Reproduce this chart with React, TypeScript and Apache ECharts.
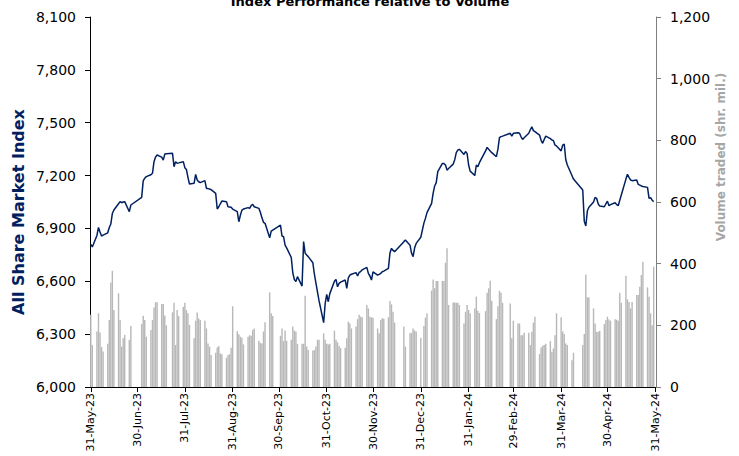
import React, { useEffect, useRef } from "react";
import * as echarts from "echarts";

// Trading days run Sunday–Thursday; null = market holiday
const tickLabels = [
  "31-May-23", "30-Jun-23", "31-Jul-23", "31-Aug-23", "30-Sep-23", "31-Oct-23",
  "30-Nov-23", "31-Dec-23", "31-Jan-24", "29-Feb-24", "31-Mar-24", "30-Apr-24", "31-May-24",
];

const indexValues: (number | null)[] = [
  6810, 6795,
  6860, 6906, 6880, 6857, 6862,
  6875, 6905, 6925, 6985, 7005,
  7040, 7052, 7046, 7050, 7052,
  6995, 7033, null, null, null,
  null, 7076, 7170, 7185, 7194,
  7205, 7213, 7279, 7305, 7317,
  7305, 7288, 7322, 7324, null,
  7326, 7250, 7279, 7270, 7272,
  7279, 7245, 7235, 7190, 7152,
  7156, 7207, 7175, 7165, 7160,
  7171, 7127, 7126, 7124, 7120,
  7099, 7010, 7023, 7040, 7055,
  7052, 7023, 7022, 7020, 7010,
  6995, 6938, 6975, 7004, 7010,
  7018, 7014, 7030, 7037, 7023,
  7014, 6990, 6960, 6935, 6929,
  6847, 6885, 6891, null, null,
  6919, 6857, 6853, 6805, 6790,
  6735, 6648, 6610, 6598, 6626,
  6573, 6825, 6760, 6749, 6740,
  6705, 6640, 6590, 6540, 6490,
  6365, 6475, 6525, 6484, 6530,
  6600, 6611, 6569, 6588, 6595,
  6607, 6560, 6620, 6635, 6640,
  6649, 6630, 6650, 6655, 6665,
  6679, 6645, 6630, 6607, 6654,
  6635, 6639, 6645, 6654, 6658,
  6673, 6760, 6787, 6775, 6768,
  null, null, null, 6825, 6834,
  6805, 6760, 6740, 6790, 6815,
  6850, null, 6930, 6957, 6990,
  7042, 7100, 7141, 7160, 7222,
  7269, 7268, 7260, 7231, 7240,
  7265, 7290, 7330, 7345, 7349,
  7320, 7336, 7326, 7260, 7225,
  7200, 7260, 7250, 7273, null,
  7340, 7360, 7349, 7340, 7330,
  7307, 7350, 7415, 7421, 7424,
  null, null, 7440, 7424, 7440,
  7443, 7440, 7420, 7405, 7415,
  7440, 7460, 7477, 7455, 7449,
  7430, 7400, 7383, 7405, 7424,
  7410, 7402, 7398, 7373, 7368,
  7340, 7373, 7379, 7290, 7260,
  7200, 7180, null, null, null,
  7118, 6940, 6914, 7000, 7020,
  7050, 7076, 7071, 7040, 7027,
  7023, 7040, 7055, 7029, 7035,
  7046, 7035, 7029, 7060, 7090,
  7180, 7207, 7190, 7175, 7171,
  7175, 7150, 7146, 7141, 7138,
  7133, 7071, 7075, 7060, 7052,
];

const volumeValues: (number | null)[] = [
  234, 136,
  180, 239, 177, 130, 115,
  140, 217, 339, 377, 250,
  304, 217, 131, 158, 169,
  153, 198, null, null, null,
  null, 204, 231, 217, 163,
  185, 217, 258, 275, 275,
  269, 269, 232, 200, null,
  242, 273, 136, 250, 230,
  260, 273, 250, 239, 201,
  158, 215, 242, 222, 217,
  215, 190, 141, 131, 104,
  111, 128, 133, 109, 106,
  95, 104, 106, 127, 262,
  181, 171, 163, 160, 138,
  163, 168, 166, 185, 190,
  150, 143, 141, 180, 210,
  307, 239, 230, null, null,
  166, 190, 149, 183, 150,
  153, 196, 183, 180, 140,
  140, 140, 296, 131, 120,
  118, 120, 131, 153, 153,
  174, 153, 140, 138, 140,
  183, 153, 145, 133, 126,
  127, 158, 212, 206, 190,
  196, 220, 234, 228, 226,
  266, 255, 228, 226, 225,
  190, 174, 217, 223, 221,
  226, 279, 268, 244, 209,
  null, null, null, 196, 131,
  174, 176, 190, 183, 180,
  160, null, 198, 225, 239,
  313, 349, 320, 344, 344,
  344, 344, 403, 450, 266,
  274, 274, 273, 273, 266,
  206, 244, 266, 250, 239,
  255, 293, 247, 240, null,
  246, 306, 320, 345, 280,
  220, 262, 312, 306, 273,
  null, null, 271, 158, 215,
  206, 206, 168, 168, 176,
  176, 136, 179, 209, 228,
  107, 128, 134, 136, 140,
  149, 114, 125, 168, 239,
  226, 180, 172, 141, 136,
  87, 111, null, null, null,
  136, 172, 365, 291, 291,
  255, 206, 179, 179, 182,
  204, 217, 228, 219, 215,
  220, 218, 215, 306, 273,
  361, 284, 276, 255, 276,
  298, 298, 325, 363, 406,
  323, 293, 239, 200, 390,
];

const MONTHS = ["Jan", "Feb", "Mar", "Apr", "May", "Jun", "Jul", "Aug", "Sep", "Oct", "Nov", "Dec"];

function fmt(d: Date): string {
  return `${d.getUTCDate()}-${MONTHS[d.getUTCMonth()]}-${String(d.getUTCFullYear()).slice(2)}`;
}

function buildSeries() {
  const days: string[] = [];
  const line: (number | null)[] = [];
  const bars: (number | null)[] = [];
  const start = Date.UTC(2023, 4, 31);
  const end = Date.UTC(2024, 4, 31);
  let k = 0;
  for (let t = start; t <= end; t += 86400000) {
    const d = new Date(t);
    const dow = d.getUTCDay();
    days.push(fmt(d));
    if (dow === 5 || dow === 6) {
      line.push(null);
      bars.push(null);
    } else {
      line.push(k < indexValues.length ? indexValues[k] : null);
      bars.push(k < volumeValues.length ? volumeValues[k] : null);
      k++;
    }
  }
  return { days, line, bars };
}

const FONT = "DejaVu Sans";

export default function App() {
  const ref = useRef<HTMLDivElement>(null);
  useEffect(() => {
    if (!ref.current) return;
    const chart = echarts.init(ref.current, undefined, { renderer: "svg" });
    const { days, line, bars } = buildSeries();
    const showTick = (_i: number, v: string) => tickLabels.includes(v);
    chart.setOption({
      animation: false,
      backgroundColor: "#ffffff",
      grid: { left: 90, right: 83, top: 17, bottom: 69, containLabel: false },
      xAxis: {
        type: "category",
        data: days,
        boundaryGap: true,
        axisLine: { show: true, lineStyle: { color: "#000000", width: 1 } },
        axisTick: { show: true, alignWithLabel: true, interval: showTick, length: 5, lineStyle: { color: "#000000" } },
        axisLabel: {
          interval: showTick,
          rotate: 90,
          fontFamily: FONT,
          fontSize: 11,
          color: "#000000",
          margin: 6,
        },
        splitLine: { show: false },
      },
      yAxis: [
        {
          type: "value",
          min: 6000,
          max: 8100,
          interval: 300,
          position: "left",
          axisLine: { show: true, lineStyle: { color: "#000000", width: 1 } },
          axisTick: { show: true, length: 5, lineStyle: { color: "#000000" } },
          axisLabel: {
            fontFamily: FONT,
            fontSize: 14,
            color: "#000000",
            margin: 14,
            formatter: (v: number) => v.toLocaleString("en-US"),
          },
          splitLine: { show: false },
        },
        {
          type: "value",
          min: 0,
          max: 1200,
          interval: 200,
          position: "right",
          axisLine: { show: true, lineStyle: { color: "#7f7f7f", width: 1 } },
          axisTick: { show: true, length: 5, lineStyle: { color: "#7f7f7f" } },
          axisLabel: {
            fontFamily: FONT,
            fontSize: 14,
            color: "#000000",
            margin: 14,
            formatter: (v: number) => v.toLocaleString("en-US"),
          },
          splitLine: { show: false },
        },
      ],
      series: [
        {
          name: "Volume",
          type: "bar",
          yAxisIndex: 1,
          data: bars,
          barWidth: "92%",
          itemStyle: { color: "#b8b8b8" },
          silent: true,
        },
        {
          name: "All Share Market Index",
          type: "line",
          yAxisIndex: 0,
          data: line,
          connectNulls: true,
          showSymbol: false,
          symbol: "none",
          lineStyle: { color: "#002060", width: 1.5 },
          z: 5,
          silent: true,
        },
      ],
      graphic: [
        {
          type: "text",
          x: 370,
          y: 1,
          style: {
            text: "Index Performance relative to Volume",
            fontFamily: FONT,
            fontWeight: "bold",
            fontSize: 13,
            fill: "#000000",
            align: "center",
            verticalAlign: "middle",
          },
        },
        {
          type: "text",
          x: 18,
          y: 212,
          rotation: Math.PI / 2,
          style: {
            text: "All Share Market Index",
            fontFamily: FONT,
            fontWeight: "bold",
            fontSize: 16,
            fill: "#002060",
            align: "center",
            verticalAlign: "middle",
          },
        },
        {
          type: "text",
          x: 721,
          y: 157,
          rotation: Math.PI / 2,
          style: {
            text: "Volume traded (shr. mil.)",
            fontFamily: FONT,
            fontWeight: "bold",
            fontSize: 12,
            fill: "#a6a6a6",
            align: "center",
            verticalAlign: "middle",
          },
        },
      ],
    });
    return () => chart.dispose();
  }, []);
  return (
    <div
      ref={ref}
      style={{ position: "fixed", left: 0, top: 0, width: 739, height: 456, background: "#fff" }}
    />
  );
}
